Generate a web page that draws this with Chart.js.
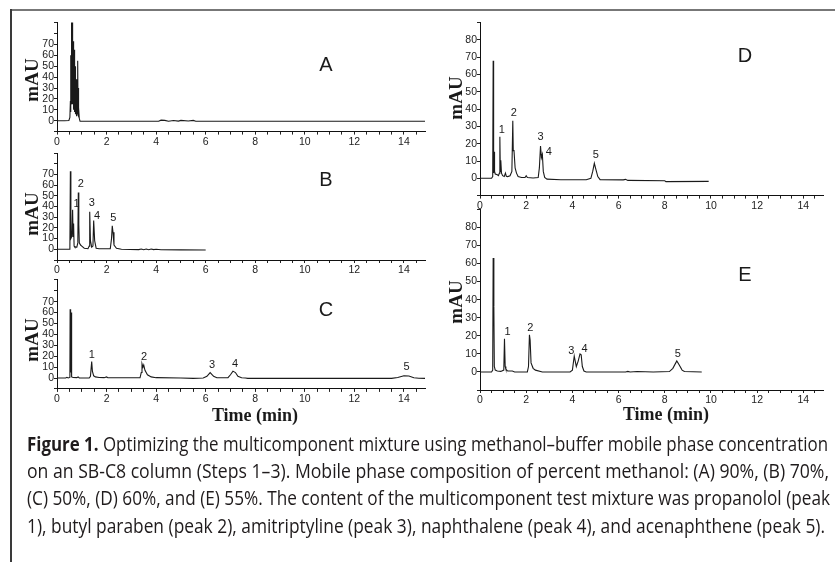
<!DOCTYPE html>
<html>
<head>
<meta charset="utf-8">
<script src="https://cdn.jsdelivr.net/npm/chart.js@4.4.1/dist/chart.umd.min.js"></script>
<style>
  html, body { margin: 0; padding: 0; background: #fff; }
  #page { position: relative; width: 835px; height: 562px; overflow: hidden; background: #fff; }
  #page canvas { position: absolute; left: 0; top: 0; }
  .frame-top { position: absolute; left: 11px; top: 9px; width: 824px; height: 2px; background: #777; }
  .frame-left { position: absolute; left: 10px; top: 9px; width: 2px; height: 553px; background: #3a3a3a; }
  .cap { position: absolute; left: 27px; white-space: nowrap; font-family: "Open Sans", "Noto Sans", sans-serif;
         font-size: 20px; line-height: 24px; color: #1f1b1c; transform-origin: 0 0; }
  .cap b { font-weight: 700; }
</style>
</head>
<body>
<div id="page">
  <div class="frame-top"></div>
  <div class="frame-left"></div>
  <canvas id="cA" width="835" height="562"></canvas>
  <canvas id="cB" width="835" height="562"></canvas>
  <canvas id="cC" width="835" height="562"></canvas>
  <canvas id="cD" width="835" height="562"></canvas>
  <canvas id="cE" width="835" height="562"></canvas>
  <div class="cap" id="l1" data-w="801" style="top:432px"><b>Figure 1.</b> Optimizing the multicomponent mixture using methanol–buffer mobile phase concentration</div>
  <div class="cap" id="l2" data-w="802" style="top:459px">on an SB-C8 column (Steps 1–3). Mobile phase composition of percent methanol: (A) 90%, (B) 70%,</div>
  <div class="cap" id="l3" data-w="803" style="top:486px">(C) 50%, (D) 60%, and (E) 55%. The content of the multicomponent test mixture was propanolol (peak</div>
  <div class="cap" id="l4" data-w="798" style="top:514px">1), butyl paraben (peak 2), amitriptyline (peak 3), naphthalene (peak 4), and acenaphthene (peak 5).</div>
</div>
<script>
// ---- axis ticks ----
const timeTickLabels = [0, 2, 4, 6, 8, 10, 12, 14];
const mauTickLabelsABC = [0, 10, 20, 30, 40, 50, 60, 70];
const mauTickLabelsDE = [0, 10, 20, 30, 40, 50, 60, 70, 80];
const mauTickMarks = [-10, 0, 10, 20, 30, 40, 50, 60, 70, 80, 90];
const panelLetters = ['A', 'B', 'C', 'D', 'E'];
const peakNumbers = ['1', '2', '3', '4', '5'];

// ---- chromatogram traces: [time (min), absorbance (mAU)] ----
// A: unresolved cluster at the solvent front
const traceA = [
  [0, 0], [0.3, 0], [0.48, 0.2], [0.52, 3], [0.54, 18], [0.55, 8], [0.56, 60], [0.565, 20],
  [0.57, 95], [0.575, 25], [0.58, 95], [0.585, 15], [0.59, 95], [0.595, 30], [0.6, 95],
  [0.605, 20], [0.61, 92], [0.615, 35], [0.62, 88], [0.625, 18], [0.63, 80], [0.635, 40],
  [0.64, 76], [0.645, 15], [0.65, 73], [0.655, 30], [0.66, 71], [0.665, 12], [0.67, 70],
  [0.675, 28], [0.68, 67], [0.685, 10], [0.69, 65], [0.695, 25], [0.7, 63], [0.705, 9],
  [0.71, 58], [0.715, 20], [0.72, 55], [0.725, 8], [0.73, 50], [0.735, 15], [0.74, 49],
  [0.745, 6], [0.75, 44], [0.76, 10], [0.77, 38], [0.78, 5], [0.79, 30], [0.8, 4],
  [0.82, 20], [0.83, 6], [0.84, 55], [0.85, 5], [0.86, 30], [0.87, 4], [0.88, 12],
  [0.9, 2], [0.93, -0.5], [1.2, -0.5], [2, -0.5],
  [4.1, -0.5], [4.2, 0.5], [4.35, 0.3], [4.5, -0.5], [4.7, 0.2], [4.9, -0.4], [5.0, 0.3],
  [5.3, -0.3], [5.5, 0.3], [5.6, -0.5], [7, -0.5], [10, -0.5], [14.85, -0.5]
];
const traceB = [
  [0, 0], [0.5, 0], [0.52, 2], [0.54, 73], [0.56, 10], [0.6, 12], [0.63, 37], [0.65, 12],
  [0.67, 24], [0.69, 3], [0.72, 2], [0.8, 2], [0.84, 6], [0.86, 53], [0.88, 23], [0.9, 6],
  [0.95, 4], [1.0, 3], [1.1, 1], [1.25, 0.5], [1.3, 3], [1.32, 35], [1.35, 8], [1.4, 2],
  [1.45, 3], [1.48, 27], [1.52, 8], [1.58, 1], [1.7, 0.5], [2.15, 0.5], [2.2, 10], [2.23, 22],
  [2.26, 16], [2.3, 4], [2.4, 1], [2.6, 0], [3.3, -0.3], [3.4, 0.3], [3.5, -0.4], [3.6, 0.2],
  [3.7, -0.4], [3.8, 0.3], [3.9, -0.3], [4.0, 0], [4.2, -0.4], [5, -0.5], [6, -0.6]
];
const traceC = [
  [0, 0], [0.35, 0], [0.4, 0.6], [0.45, 0], [0.52, 0.5], [0.53, 63], [0.55, 5], [0.57, 60],
  [0.59, 1], [0.65, 0.5], [0.8, 0.3], [0.85, 1], [0.9, 0], [1.3, 0], [1.35, 1.5], [1.4, 15],
  [1.43, 6], [1.48, 2], [1.55, 1], [1.7, 0.5], [1.9, 0.3], [2.0, 1], [2.05, 0.2], [3.35, 0.2],
  [3.4, 5], [3.43, 13], [3.47, 10], [3.5, 12], [3.55, 7], [3.65, 3], [3.8, 1], [4, 0.3],
  [5, 0], [5.5, -0.3], [5.9, 0], [6.05, 1.5], [6.18, 4.9], [6.32, 1.5], [6.45, 0.2], [6.9, 0.3],
  [7.0, 3], [7.1, 6.3], [7.2, 5], [7.3, 1.5], [7.45, 0.3], [7.6, 0], [7.7, -0.3], [8, -0.3],
  [10, -0.3], [13.5, -0.3], [13.75, 0.5], [14.0, 2], [14.2, 1.8], [14.4, 0.3], [14.6, -0.2],
  [14.85, -0.3]
];
const traceD = [
  [0, 0], [0.5, 0], [0.55, 1], [0.57, 68], [0.59, 3], [0.61, 15.4], [0.63, 4], [0.66, 2.5],
  [0.75, 2], [0.8, 1.5], [0.84, 3], [0.86, 24], [0.88, 4], [0.9, 10.4], [0.93, 3], [0.98, 1.5],
  [1.05, 1], [1.1, 3], [1.14, 1.2], [1.2, 1], [1.3, 1.5], [1.38, 4], [1.42, 33.3], [1.44, 16],
  [1.47, 16.4], [1.52, 6], [1.58, 3], [1.65, 1], [1.8, 0.5], [1.95, 0.5], [2.0, 1.5], [2.05, 0.5],
  [2.3, 0.2], [2.52, 0.5], [2.57, 6], [2.62, 18.7], [2.66, 12], [2.7, 13.9], [2.74, 4], [2.8, 0.5],
  [2.9, -0.5], [3.5, -0.8], [4.6, -0.8], [4.8, 0], [4.88, 4], [4.95, 8.7], [5.02, 5], [5.1, 1],
  [5.2, -0.8], [6.2, -0.9], [6.3, -0.6], [6.4, -1.2], [8, -1.4], [8.05, -1.9], [9.9, -1.8]
];
const traceE = [
  [0, 0], [0.5, 0], [0.55, 1], [0.57, 63], [0.6, 36], [0.62, 3], [0.66, 1], [0.75, 0.5],
  [0.9, 0.3], [1.03, 1], [1.06, 18.4], [1.09, 3], [1.12, 1.5], [1.2, 0.5], [1.4, 0.5], [1.5, 0],
  [2.05, 0], [2.1, 3], [2.14, 20.5], [2.17, 17.7], [2.21, 5], [2.3, 2], [2.4, 1], [2.7, 0],
  [3.9, 0], [4.0, 1], [4.08, 8.8], [4.17, 3], [4.25, 6], [4.33, 10], [4.38, 9.5], [4.43, 3],
  [4.5, 0.5], [4.6, 0], [6.3, 0], [6.4, 0.3], [6.5, 0], [6.8, 0.2], [7.5, 0], [8.2, 0.2],
  [8.35, 2], [8.52, 6.1], [8.62, 4], [8.75, 1], [8.85, 0.2], [9.6, 0]
];

// ---- numbered peaks: retention time (min) and apex height (mAU) ----
const peakTimesB = [0.63, 0.86, 1.32, 1.48, 2.23];
const peakHeightsB = [37, 53, 35, 27, 22];
const peakTimesC = [1.4, 3.43, 6.18, 7.1, 14.0];
const peakHeightsC = [15, 13, 4.9, 6.3, 2];
const peakTimesD = [0.86, 1.42, 2.62, 2.7, 4.95];
const peakHeightsD = [24, 33.3, 18.7, 13.9, 8.7];
const peakTimesE = [1.06, 2.14, 4.08, 4.33, 8.52];
const peakHeightsE = [18.4, 20.5, 8.8, 10, 6.1];

// ---- page layout of the five panels ----
const W = 835, H = 562, Y_AXIS_W = 26, X_AXIS_H = 20, T_MAX = 14.85;
const TICK_FONT = { family: '"Liberation Sans", Arial, sans-serif', size: 10.5 };
const INK = '#1a1a1a';

const panels = [
  { id: 'cA', letter: 0, trace: traceA, yLabels: mauTickLabelsABC,
    area: { left: 57, right: 425, top: 22.6, bottom: 131.6 },
    letterAt: [326, 65], yTitleAt: [33, 80] },
  { id: 'cB', letter: 1, trace: traceB, yLabels: mauTickLabelsABC,
    area: { left: 57, right: 425, top: 153, bottom: 260 },
    letterAt: [326, 180], yTitleAt: [33, 214],
    peakT: peakTimesB, peakH: peakHeightsB,
    peakOff: [[4, -6], [2.5, -9], [2, -9], [3.5, -4], [1, -7.5]] },
  { id: 'cC', letter: 2, trace: traceC, yLabels: mauTickLabelsABC,
    area: { left: 57, right: 425, top: 279.9, bottom: 388.9 },
    letterAt: [326, 310], yTitleAt: [33, 340], timeTitleAt: [255, 416],
    peakT: peakTimesC, peakH: peakHeightsC,
    peakOff: [[0, -7], [2, -7], [2, -8], [2, -7], [2.5, -8.5]] },
  { id: 'cD', letter: 3, trace: traceD, yLabels: mauTickLabelsDE,
    area: { left: 480, right: 823, top: 22.7, bottom: 195.6 },
    letterAt: [745, 56.5], yTitleAt: [457, 98],
    peakT: peakTimesD, peakH: peakHeightsD,
    peakOff: [[2, -7], [1, -7.5], [0, -9], [6.5, -2.5], [1.5, -8]] },
  { id: 'cE', letter: 4, trace: traceE, yLabels: mauTickLabelsDE,
    area: { left: 480, right: 823, top: 209.3, bottom: 390 },
    letterAt: [745, 275], yTitleAt: [457, 302], timeTitleAt: [666, 415],
    peakT: peakTimesE, peakH: peakHeightsE,
    peakOff: [[3, -7], [1, -7], [-3, -5], [4.5, -5], [1, -7]] }
];

// minor time ticks every half minute
const timeTickMarks = [];
for (let k = 0; k <= 29; k++) timeTickMarks.push(k / 2);

function panelText(p) {
  return {
    id: 'panelText',
    afterDatasetsDraw(chart) {
      const c = chart.ctx, xs = chart.scales.x, ys = chart.scales.y;
      c.save();
      c.fillStyle = INK;
      c.textAlign = 'center';
      c.textBaseline = 'middle';
      if (p.peakT) {
        c.font = '11px "Liberation Sans", Arial, sans-serif';
        p.peakT.forEach((t, i) => {
          c.fillText(peakNumbers[i],
            xs.getPixelForValue(t) + p.peakOff[i][0],
            ys.getPixelForValue(p.peakH[i]) + p.peakOff[i][1]);
        });
      }
      c.font = '20px "Liberation Sans", Arial, sans-serif';
      c.fillText(panelLetters[p.letter], p.letterAt[0], p.letterAt[1]);
      if (p.timeTitleAt) {
        c.font = 'bold 18px "Liberation Serif", "Times New Roman", serif';
        c.fillText('Time (min)', p.timeTitleAt[0], p.timeTitleAt[1]);
      }
      c.font = 'bold 19px "Liberation Serif", "Times New Roman", serif';
      c.translate(p.yTitleAt[0], p.yTitleAt[1]);
      c.rotate(-Math.PI / 2);
      c.fillText('mAU', 0, 0);
      c.restore();
    }
  };
}

panels.forEach(p => {
  const a = p.area;
  new Chart(document.getElementById(p.id), {
    type: 'scatter',
    data: {
      datasets: [{
        data: p.trace.map(([t, v]) => ({ x: t, y: v })),
        showLine: true, borderColor: INK, borderWidth: 1.1,
        pointRadius: 0, tension: 0, fill: false
      }]
    },
    options: {
      responsive: false, animation: false, devicePixelRatio: 1, events: [],
      layout: { padding: { left: a.left - Y_AXIS_W, right: W - a.right, top: a.top, bottom: H - a.bottom - X_AXIS_H } },
      plugins: { legend: { display: false }, tooltip: { enabled: false }, title: { display: false } },
      scales: {
        x: {
          type: 'linear', min: 0, max: T_MAX,
          afterFit: s => { s.height = X_AXIS_H; },
          afterBuildTicks: s => { s.ticks = timeTickMarks.map(v => ({ value: v })); },
          ticks: {
            autoSkip: false, maxRotation: 0, padding: 1, color: '#222', font: TICK_FONT,
            callback: v => (timeTickLabels.includes(v) ? String(v) : '')
          },
          grid: { drawOnChartArea: false, drawTicks: true, tickLength: 3, color: '#222' },
          border: { display: true, color: '#111', width: 1 }
        },
        y: {
          type: 'linear', min: -10, max: 90,
          afterFit: s => { s.width = Y_AXIS_W; },
          afterBuildTicks: s => { s.ticks = mauTickMarks.map(v => ({ value: v })); },
          ticks: {
            autoSkip: false, padding: 0, color: '#222', font: TICK_FONT,
            callback: v => (p.yLabels.includes(v) ? String(v) : '')
          },
          grid: { drawOnChartArea: false, drawTicks: true, tickLength: 3, color: '#222' },
          border: { display: true, color: '#111', width: 1 }
        }
      }
    },
    plugins: [panelText(p)]
  });
});

// caption lines are set in a condensed measure to fill the column width
document.querySelectorAll('.cap').forEach(el => {
  const w = el.getBoundingClientRect().width;
  el.style.transform = 'scaleX(' + (parseFloat(el.dataset.w) / w) + ')';
});
</script>
</body>
</html>
